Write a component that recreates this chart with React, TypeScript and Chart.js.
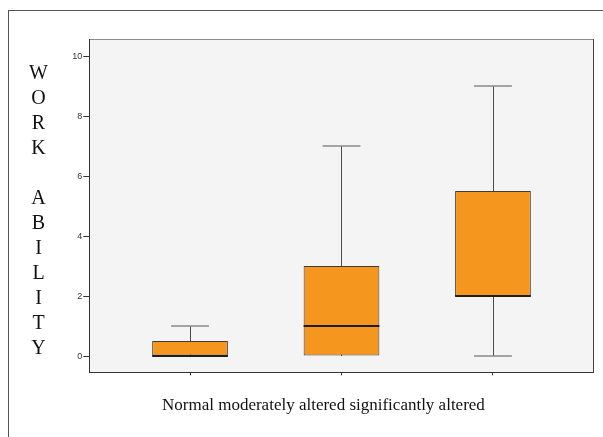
import React, { useEffect, useRef } from "react";
import { Chart, registerables } from "chart.js";

Chart.register(...registerables);

const categories = ["Normal", "moderately altered", "significantly altered"];
const categoryPositions = [1, 2, 3];
const minValues = [0, 0, 0];
const q1Values = [0, 0, 2];
const medianValues = [0, 1, 2];
const q3Values = [0.5, 3, 5.5];
const maxValues = [1, 7, 9];
const yTicks = [0, 2, 4, 6, 8, 10];
const yAxisLetters = ["W", "O", "R", "K", "", "A", "B", "I", "L", "I", "T", "Y"];
const xAxisTitle = categories.join(" ");

const px = (v: number) => Math.round(v) + 0.5;

const boxPlugin = {
  id: "boxExtras",
  beforeDraw(chart: any) {
    const { ctx, chartArea: a } = chart;
    ctx.save();
    ctx.fillStyle = "#f3f4f3";
    ctx.fillRect(a.left, a.top, a.width, a.height);
    ctx.lineWidth = 1;
    ctx.strokeStyle = "#8c8c8c";
    ctx.beginPath();
    ctx.moveTo(a.left, px(a.top));
    ctx.lineTo(a.right, px(a.top));
    ctx.stroke();
    ctx.strokeStyle = "#444";
    ctx.beginPath();
    ctx.moveTo(px(a.right - 1), a.top);
    ctx.lineTo(px(a.right - 1), a.bottom);
    ctx.stroke();
    ctx.restore();
  },
  beforeDatasetsDraw(chart: any) {
    const { ctx, scales } = chart;
    const y = scales.y;
    const x = scales.x;
    ctx.save();
    ctx.strokeStyle = "#4a4a4a";
    ctx.lineWidth = 1;
    categoryPositions.forEach((pos, i) => {
      const cx = px(x.getPixelForValue(pos));
      ctx.beginPath();
      ctx.moveTo(cx, y.getPixelForValue(maxValues[i]));
      ctx.lineTo(cx, y.getPixelForValue(minValues[i]));
      ctx.stroke();
    });
    ctx.restore();
  },
  afterDatasetsDraw(chart: any) {
    const { ctx, scales } = chart;
    const y = scales.y;
    const x = scales.x;
    const meta = chart.getDatasetMeta(0);
    ctx.save();
    categoryPositions.forEach((pos, i) => {
      const cx = x.getPixelForValue(pos);
      const bw = meta.data[i].width;
      const half = bw / 4;
      ctx.strokeStyle = "#8a8a8a";
      ctx.lineWidth = 1.5;
      [maxValues[i], minValues[i]].forEach((v, k) => {
        if (k === 1 && v === q1Values[i]) return;
        const yy = y.getPixelForValue(v);
        ctx.beginPath();
        ctx.moveTo(cx - half, yy);
        ctx.lineTo(cx + half, yy);
        ctx.stroke();
      });
      ctx.strokeStyle = "#1e1e1e";
      ctx.lineWidth = 2;
      const my = y.getPixelForValue(medianValues[i]);
      ctx.beginPath();
      ctx.moveTo(cx - bw / 2, my);
      ctx.lineTo(cx + bw / 2, my);
      ctx.stroke();
    });
    ctx.restore();
  },
};

export default function App() {
  const ref = useRef<HTMLCanvasElement>(null);
  useEffect(() => {
    const chart = new Chart(ref.current as HTMLCanvasElement, {
      type: "bar",
      data: {
        datasets: [
          {
            label: "WORK ABILITY",
            data: categoryPositions.map((p, i) => ({ x: p, y: [q1Values[i], q3Values[i]] })) as any,
            backgroundColor: "#f5971f",
            borderColor: "#3c3c3c",
            borderWidth: 1,
            borderSkipped: false,
            barPercentage: 0.5,
            categoryPercentage: 1,
          },
        ],
      },
      options: {
        animation: false,
        responsive: false,
        devicePixelRatio: 1,
        layout: { padding: { left: 0, top: 39, right: 9.3, bottom: 54.7 } },
        plugins: {
          legend: { display: false },
          tooltip: { enabled: false },
          title: { display: false },
        },
        scales: {
          x: {
            type: "linear",
            offset: false,
            min: 0.335,
            max: 3.665,
            afterBuildTicks: (s: any) => {
              s.ticks = categoryPositions.map((v) => ({ value: v }));
            },
            afterFit: (s: any) => {
              s.height = 10;
            },
            ticks: { display: false },
            grid: { display: true, offset: false, drawOnChartArea: false, drawTicks: true, tickLength: 3, color: "#333" },
            border: { display: true, color: "#333" },
          },
          y: {
            type: "linear",
            min: -0.54,
            max: 10.57,
            afterBuildTicks: (s: any) => {
              s.ticks = yTicks.map((v) => ({ value: v }));
            },
            afterFit: (s: any) => {
              s.width = 89.3;
            },
            ticks: {
              font: { family: "'Liberation Sans', Arial, sans-serif", size: 9 },
              color: "#333",
              padding: 1,
            },
            grid: { display: true, drawOnChartArea: false, drawTicks: true, tickLength: 6, color: "#333" },
            border: { display: true, color: "#333" },
          },
        },
      } as any,
      plugins: [boxPlugin],
    });
    return () => chart.destroy();
  }, []);

  return (
    <div style={{ position: "fixed", left: 0, top: 0, width: 603, height: 437, background: "#fff", overflow: "hidden" }}>
      <div
        style={{
          position: "absolute",
          left: 8,
          top: 10,
          width: 600,
          height: 430,
          borderLeft: "1px solid #555",
          borderTop: "1px solid #555",
        }}
      />
      <canvas ref={ref} width={603} height={437} style={{ position: "absolute", left: 0, top: 0, display: "block" }} />
      <div
        style={{
          position: "absolute",
          left: 28,
          top: 60,
          width: 21,
          textAlign: "center",
          font: "20px 'Liberation Serif', 'Times New Roman', serif",
          lineHeight: "25px",
          color: "#111",
        }}
      >
        {yAxisLetters.map((c, i) => (
          <div key={i}>{c === "" ? "\u00a0" : c}</div>
        ))}
      </div>
      <div
        style={{
          position: "absolute",
          left: 162,
          top: 395,
          whiteSpace: "nowrap",
          font: "17px 'Liberation Serif', 'Times New Roman', serif",
          lineHeight: "20px",
          color: "#111",
        }}
      >
        {xAxisTitle}
      </div>
    </div>
  );
}
